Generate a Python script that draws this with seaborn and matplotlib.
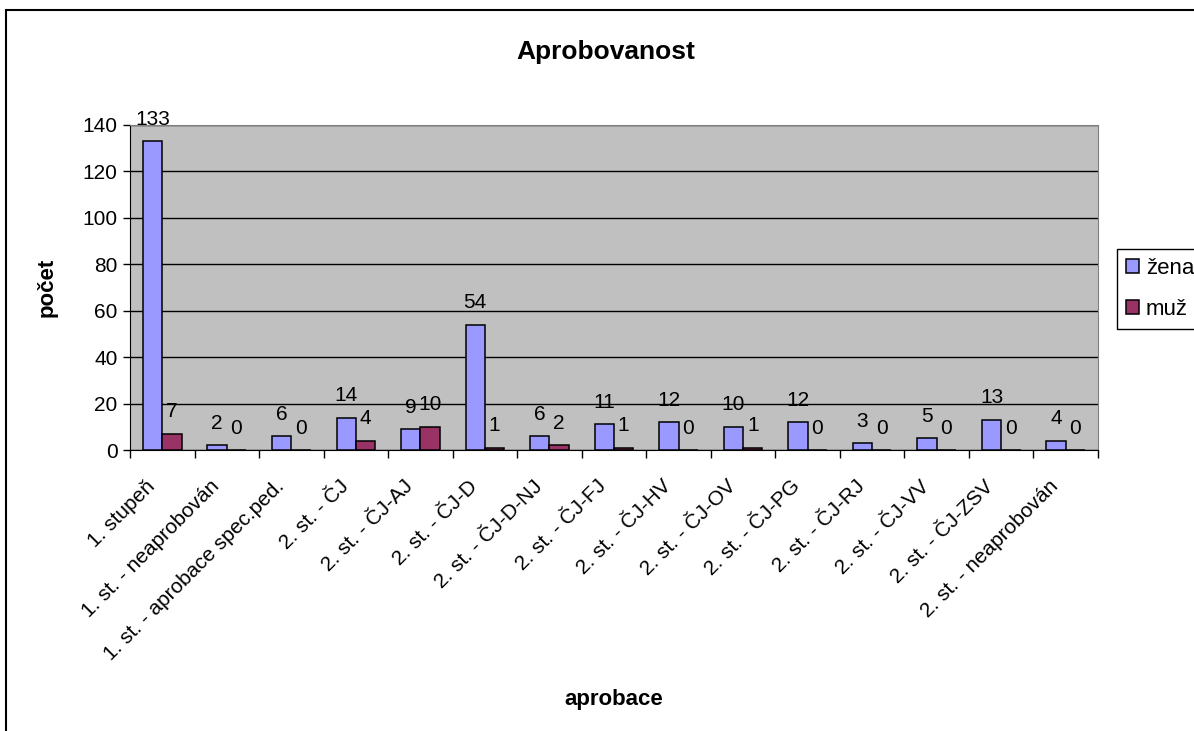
import numpy as np
import pandas as pd
import seaborn as sns
import matplotlib.pyplot as plt
from matplotlib.patches import Rectangle
from matplotlib.ticker import FixedLocator
from matplotlib.transforms import ScaledTranslation

categories = [
    '1. stupeň', '1. st. - neaprobován', '1. st. - aprobace spec.ped.',
    '2. st. - ČJ', '2. st. - ČJ-AJ', '2. st. - ČJ-D', '2. st. - ČJ-D-NJ',
    '2. st. - ČJ-FJ', '2. st. - ČJ-HV', '2. st. - ČJ-OV', '2. st. - ČJ-PG',
    '2. st. - ČJ-RJ', '2. st. - ČJ-VV', '2. st. - ČJ-ZSV', '2. st. - neaprobován',
]
zena = [133, 2, 6, 14, 9, 54, 6, 11, 12, 10, 12, 3, 5, 13, 4]
muz = [7, 0, 0, 4, 10, 1, 2, 1, 0, 1, 0, 0, 0, 0, 0]
series = ['žena', 'muž']
colors = ['#9999FF', '#993366']

df = pd.DataFrame({
    'aprobace': categories * 2,
    'počet': zena + muz,
    'pohlaví': [series[0]] * len(categories) + [series[1]] * len(categories),
})

sns.set_style("white")
plt.rcParams['font.family'] = ['Liberation Sans', 'DejaVu Sans']
plt.rcParams.update({
    'text.color': 'black',
    'axes.labelcolor': 'black',
    'xtick.color': 'black',
    'ytick.color': 'black',
})

fig = plt.figure(figsize=(11.94, 7.31), dpi=100)
ax = fig.add_axes([130 / 1194, 1 - 450 / 731, 968 / 1194, 325 / 731])
ax.set_facecolor('#C0C0C0')

sns.barplot(data=df, x='aprobace', y='počet', hue='pohlaví', palette=colors,
            width=0.6, edgecolor='black', linewidth=1.1, saturation=1,
            legend=True, ax=ax, zorder=3)

for cont in ax.containers:
    ax.bar_label(cont, fontsize=15, padding=9)

ax.set_ylim(0, 140)
ax.set_xlim(-0.5, len(categories) - 0.5)
ax.set_yticks(np.arange(0, 141, 20))
ax.yaxis.grid(True, color='black', linewidth=1, zorder=1)
ax.set_axisbelow(True)
for side in ['top', 'right', 'left', 'bottom']:
    ax.spines[side].set_visible(True)
    ax.spines[side].set_color('#808080')
ax.spines['left'].set_color('black')
ax.spines['bottom'].set_color('black')

ax.tick_params(axis='y', which='major', direction='out', length=5, width=1,
               left=True, labelsize=15, pad=4)
ax.xaxis.set_minor_locator(FixedLocator(np.arange(-0.5, len(categories), 1)))
ax.tick_params(axis='x', which='minor', direction='out', length=6, width=1,
               bottom=True)
ax.tick_params(axis='x', which='major', length=0, labelsize=15, pad=12)
# nudge the rotated labels down-left like the Excel original
shift = ScaledTranslation(-0.17, -0.10, fig.dpi_scale_trans)
for lbl in ax.get_xticklabels():
    lbl.set_rotation(45)
    lbl.set_ha('right')
    lbl.set_rotation_mode('anchor')
    lbl.set_transform(lbl.get_transform() + shift)

ax.set_xlabel('aprobace', fontsize=16, fontweight='bold', labelpad=0)
ax.xaxis.set_label_coords(0.5, -0.735)
ax.set_ylabel('počet', fontsize=16, fontweight='bold')
ax.yaxis.set_label_coords(-0.075, 0.5)
fig.text(606 / 1194, 1 - 52 / 731, 'Aprobovanost', fontsize=19,
         fontweight='bold', ha='center', va='center')

handles, labels = ax.get_legend_handles_labels()
ax.legend(handles, labels, loc='upper left', bbox_to_anchor=(1117 / 1194, 1 - 249 / 731),
          bbox_transform=fig.transFigure, frameon=True, fancybox=False,
          edgecolor='black', fontsize=16, handlelength=0.6, handleheight=0.6,
          handletextpad=0.3, labelspacing=0.9, borderpad=0.4, borderaxespad=0,
          framealpha=1)

fig.patches.append(Rectangle((6 / 1194, -0.1), 1.2, 1 - 10 / 731 + 0.1,
                             transform=fig.transFigure, fill=False,
                             edgecolor='black', linewidth=1.5, zorder=-1))

fig.savefig('out.png', dpi=100, facecolor='white')
